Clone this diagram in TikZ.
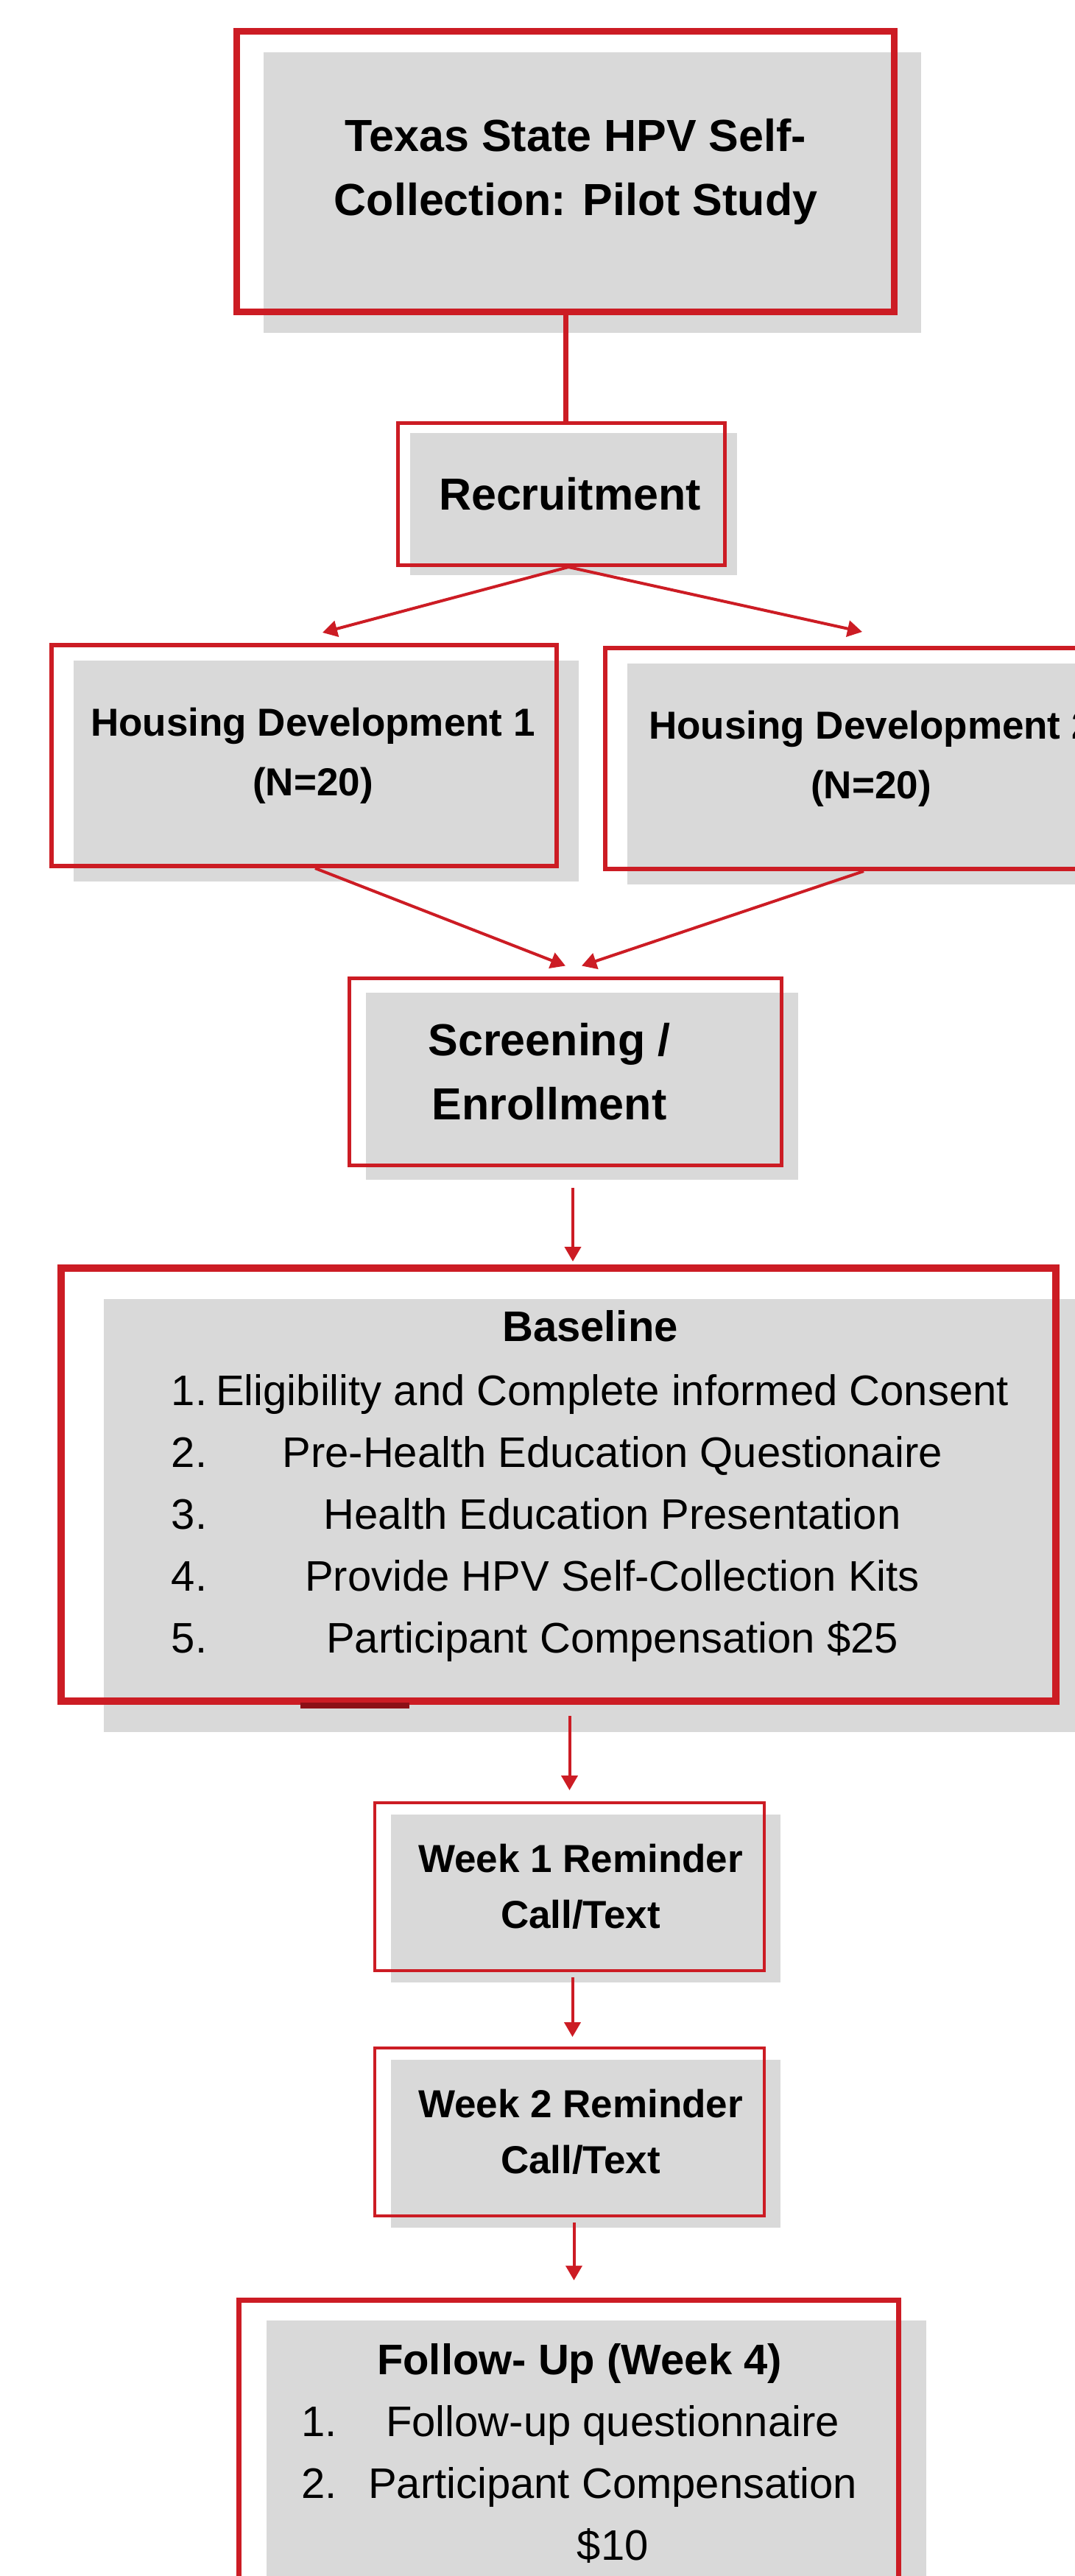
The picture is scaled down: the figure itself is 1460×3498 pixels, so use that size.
\documentclass[tikz,border=0pt]{standalone}
\usepackage{fontspec}
\setmainfont{Liberation Sans}
\usepackage{tikz}
\usetikzlibrary{shadows,arrows.meta}
\definecolor{framered}{RGB}{204,28,36}
\definecolor{darkred}{RGB}{140,16,22}
\definecolor{panelgrey}{RGB}{217,217,217}

\begin{document}
\begin{tikzpicture}[x = 0.5pt,
                    y = -0.5pt]
% style of boxes
\tikzset{boxstyle/.style={draw=framered,rectangle,align=center,inner sep=0pt},
         boxshadow/.style 2 args={general shadow={fill=panelgrey,shadow xshift=#1,shadow yshift=#2}},
         bigtext/.style={font=\fontsize{30.5}{43.5}\selectfont\bfseries},
         midtext/.style={font=\fontsize{26.5}{40.5}\selectfont\bfseries},
         listtext/.style={font=\fontsize{29}{42}\selectfont},
         linkstyle/.style={draw=framered,line width=2pt,-{Triangle[length=10pt,width=11pt]}}}
% page
\useasboundingbox (0,0) rectangle (1460,3498);
\clip (0,0) rectangle (1460,3498);

%boxes
\node[boxstyle, bigtext, line width=4.5pt, minimum width=446.5pt, minimum height=190.5pt,
      boxshadow={18pt}{-14pt}] (title) at (768,233)
      {\hspace*{14pt}Texas State HPV Self-\\\hspace*{14pt}Collection: Pilot Study};
\node[boxstyle, bigtext, line width=2.5pt, minimum width=222pt, minimum height=96.5pt,
      boxshadow={8.5pt}{-6.5pt}] (recruit) at (762,671) {\hspace*{12pt}Recruitment};
\node[boxstyle, midtext, line width=3pt, minimum width=343pt, minimum height=150pt,
      boxshadow={14.75pt}{-10.5pt}] (hd1) at (413,1026)
      {\hspace*{12pt}Housing Development 1\\\hspace*{12pt}(N=20)};
\node[boxstyle, midtext, line width=3pt, minimum width=343pt, minimum height=150pt,
      boxshadow={14.75pt}{-10.5pt}] (hd2) at (1165,1030)
      {\hspace*{18pt}Housing Development 2\\\hspace*{18pt}(N=20)};
\node[boxstyle, bigtext, line width=2.5pt, minimum width=293.5pt, minimum height=127pt,
      boxshadow={11.25pt}{-10pt}] (screen) at (768,1455)
      {Screening /\hspace*{22pt}\\Enrollment\hspace*{22pt}};
\node[boxstyle, listtext, line width=5pt, minimum width=675.5pt, minimum height=294pt,
      boxshadow={29pt}{-21pt}] (base) at (758.5,2016)
      {\begin{tabular}{@{\hspace*{43pt}}l@{\hspace{6pt}}c@{}}
       \multicolumn{2}{@{\hspace*{43pt}}c@{}}{\bfseries Baseline}\\[1.5pt]
       1. & Eligibility and Complete informed Consent\\
       2. & Pre-Health Education Questionaire\\
       3. & Health Education Presentation\\
       4. & Provide HPV Self-Collection Kits\\
       5. & Participant Compensation \$25
       \end{tabular}};
\node[boxstyle, font=\fontsize{26.5}{38}\selectfont\bfseries, line width=2pt,
      minimum width=264.5pt, minimum height=114pt,
      boxshadow={10.75pt}{-7.75pt}] (week1) at (773.5,2562)
      {\hspace*{15pt}Week 1 Reminder\\\hspace*{15pt}Call/Text};
\node[boxstyle, font=\fontsize{26.5}{38}\selectfont\bfseries, line width=2pt,
      minimum width=264.5pt, minimum height=114pt,
      boxshadow={10.75pt}{-7.75pt}] (week2) at (773.5,2895)
      {\hspace*{15pt}Week 2 Reminder\\\hspace*{15pt}Call/Text};
\node[boxstyle, listtext, line width=3.5pt, minimum width=448pt, minimum height=211pt,
      boxshadow={18.5pt}{-14pt}] (follow) at (772.5,3334)
      {\begin{tabular}{@{\hspace*{14.5pt}}l@{\hspace{21pt}}c@{}}
       \multicolumn{2}{@{\hspace*{14.5pt}}c@{}}{\bfseries Follow- Up (Week 4)}\\
       1. & Follow-up questionnaire\\
       2. & Participant Compensation\\
          & \$10
       \end{tabular}};

% mark under baseline box
\draw[darkred, line width=4pt] ([shift={(330,1)}]base.south west) -- ++(148,0);

%links
\draw[framered, line width=3.5pt] (title.south) -- (title.south |- recruit.north);
\draw[linkstyle] ([xshift=5pt]recruit.south) -- ([shift={(25,-14)}]hd1.north);
\draw[linkstyle] ([xshift=5pt]recruit.south) -- ([shift={(6,-19)}]hd2.north);
\draw[linkstyle] ([xshift=7.5pt]hd1.south) -- ([yshift=7pt]screen.north);
\draw[linkstyle] ([xshift=4pt]hd2.south) -- ([shift={(22,-14)}]screen.north);
\draw[linkstyle, shorten <=14pt, shorten >=2pt] ([xshift=5pt]screen.south) -- ([xshift=5pt]screen.south |- base.north);
\draw[linkstyle, shorten <=7.5pt, shorten >=7.5pt] (week1.north |- base.south) -- (week1.north);
\draw[linkstyle, shorten <=3.5pt, shorten >=6.5pt] ([xshift=2pt]week1.south) -- ([xshift=2pt]week1.south |- week2.north);
\draw[linkstyle, shorten <=3.5pt, shorten >=11.5pt] ([xshift=3pt]week2.south) -- ([xshift=3pt]week2.south |- follow.north);
\end{tikzpicture}
\end{document}
